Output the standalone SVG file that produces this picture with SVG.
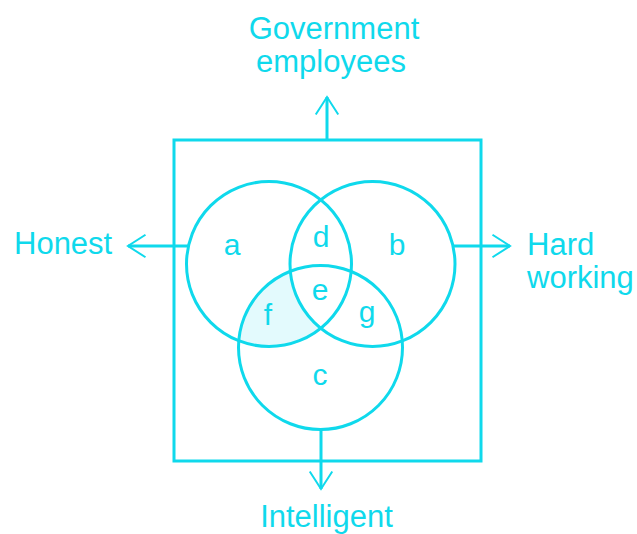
<svg xmlns="http://www.w3.org/2000/svg" width="637" height="534" viewBox="0 0 637 534">
  <style>
    .ln { fill: none; stroke: #0fd9ec; stroke-width: 3; }
    .tx { fill: #0fd9ec; font-family: "Liberation Sans", Arial, sans-serif; font-size: 31px; }
    .lt { fill: #0fd9ec; font-family: "Liberation Sans", Arial, sans-serif; font-size: 30px; text-anchor: middle; }
  </style>
  <defs>
    <marker id="chev" markerUnits="userSpaceOnUse" markerWidth="30" markerHeight="30" viewBox="-16 -12 20 24" refX="0" refY="0" orient="auto">
      <path d="M-14,-9 L0,0 L-14,9" fill="none" stroke="#0fd9ec" stroke-width="1.6"/>
    </marker>
    <clipPath id="clipHonest">
      <circle cx="269" cy="264" r="82.5"/>
    </clipPath>
  </defs>
  <rect width="637" height="534" fill="#ffffff"/>

  <!-- universal set: government employees -->
  <g id="universe">
    <rect class="ln" x="174" y="140" width="307" height="321"/>
  </g>

  <!-- shaded region f: honest and intelligent, not hard working -->
  <g id="region-f" clip-path="url(#clipHonest)">
    <circle cx="320.5" cy="347.5" r="82" fill="#e3fafd"/>
    <circle cx="372.5" cy="264" r="82.5" fill="#ffffff"/>
  </g>

  <g id="set-honest">
    <circle class="ln" cx="269" cy="264" r="82.5"/>
  </g>
  <g id="set-hardworking">
    <circle class="ln" cx="372.5" cy="264" r="82.5"/>
  </g>
  <g id="set-intelligent">
    <circle class="ln" cx="320.5" cy="347.5" r="82"/>
  </g>

  <!-- region labels -->
  <g id="regions">
    <text class="lt" x="232" y="255">a</text>
    <text class="lt" x="397" y="255">b</text>
    <text class="lt" x="320" y="385">c</text>
    <text class="lt" x="321" y="247">d</text>
    <text class="lt" x="320" y="300">e</text>
    <text class="lt" x="268" y="325">f</text>
    <text class="lt" x="367" y="322">g</text>
  </g>

  <!-- pointers from each set to its name -->
  <g id="connectors">
    <line class="ln" x1="327" y1="140" x2="327" y2="97" marker-end="url(#chev)"/>
    <line class="ln" x1="188" y1="246" x2="128" y2="246" marker-end="url(#chev)"/>
    <line class="ln" x1="453" y1="246" x2="510" y2="246" marker-end="url(#chev)"/>
    <line class="ln" x1="321" y1="429" x2="321" y2="489" marker-end="url(#chev)"/>
  </g>

  <g id="label-government">
    <text class="tx" x="334" y="39" text-anchor="middle">Government</text>
    <text class="tx" x="331" y="72" text-anchor="middle">employees</text>
  </g>
  <g id="label-honest">
    <text class="tx" x="14" y="254">Honest</text>
  </g>
  <g id="label-hardworking">
    <text class="tx" x="527" y="255">Hard</text>
    <text class="tx" x="527" y="288">working</text>
  </g>
  <g id="label-intelligent">
    <text class="tx" x="326.5" y="527" text-anchor="middle">Intelligent</text>
  </g>
</svg>
